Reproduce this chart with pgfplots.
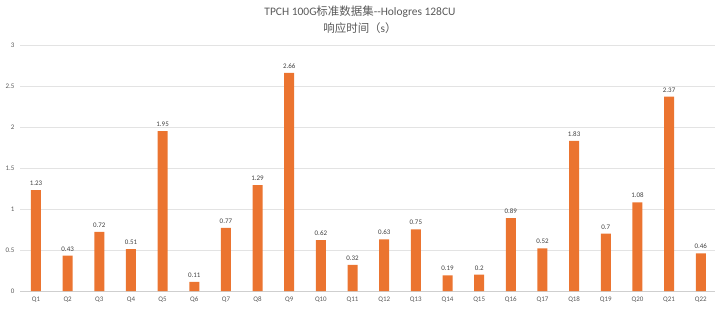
\documentclass[border=0pt]{standalone}
\usepackage{pgfplots}
\pgfplotsset{compat=1.18}
\usepackage{fontspec}
\setmainfont{Carlito}
\newfontfamily\cjk{Noto Sans CJK SC}
\definecolor{barorange}{HTML}{EB7430}
\definecolor{txtgray}{HTML}{595959}
\definecolor{gridgray}{HTML}{E3E3E3}
\begin{document}
\begin{tikzpicture}
\useasboundingbox (-20bp,-21bp) rectangle (700bp,291bp);
\begin{axis}[
  scale only axis, width=695bp, height=246bp, at={(0,0)}, anchor=south west,
  xmin=0.495, xmax=22.45, ymin=0, ymax=3,
  ytick={0,0.5,1,1.5,2,2.5,3},
  yticklabels={0,0.5,1,1.5,2,2.5,3},
  xtick={1,...,22},
  xticklabels={Q1,Q2,Q3,Q4,Q5,Q6,Q7,Q8,Q9,Q10,Q11,Q12,Q13,Q14,Q15,Q16,Q17,Q18,Q19,Q20,Q21,Q22},
  ymajorgrids, grid style={gridgray, line width=0.6pt},
  axis line style={draw=none},
  major tick length=0pt,
  ticklabel style={font=\fontsize{7}{8}\selectfont, text=txtgray},
  yticklabel style={xshift=-2bp},
  xticklabel style={yshift=-2bp},
  /pgf/number format/assume math mode=true,
  clip=false,
]
\draw[gridgray!80!gray, line width=0.8pt] (axis cs:0.495,0) -- (axis cs:22.45,0);
\addplot[ybar, bar width=10bp, fill=barorange, draw=none,
  nodes near coords,
  every node near coord/.append style={font=\fontsize{7}{8}\selectfont, text=black!75, yshift=1bp},
  /pgf/number format/fixed, /pgf/number format/precision=2]
coordinates {
(1,1.23) (2,0.43) (3,0.72) (4,0.51) (5,1.95) (6,0.11) (7,0.77) (8,1.29)
(9,2.66) (10,0.62) (11,0.32) (12,0.63) (13,0.75) (14,0.19) (15,0.2)
(16,0.89) (17,0.52) (18,1.83) (19,0.7) (20,1.08) (21,2.37) (22,0.46)};
\end{axis}
\node[text=txtgray, font=\fontsize{11.5}{13}\selectfont] at (340bp,279bp) {TPCH 100G{\cjk 标准数据集}-{}-Hologres 128CU};
\node[text=txtgray, font=\fontsize{11.5}{13}\selectfont] at (340bp,263bp) {{\cjk 响应时间（}s{\cjk ）}};
\end{tikzpicture}
\end{document}
